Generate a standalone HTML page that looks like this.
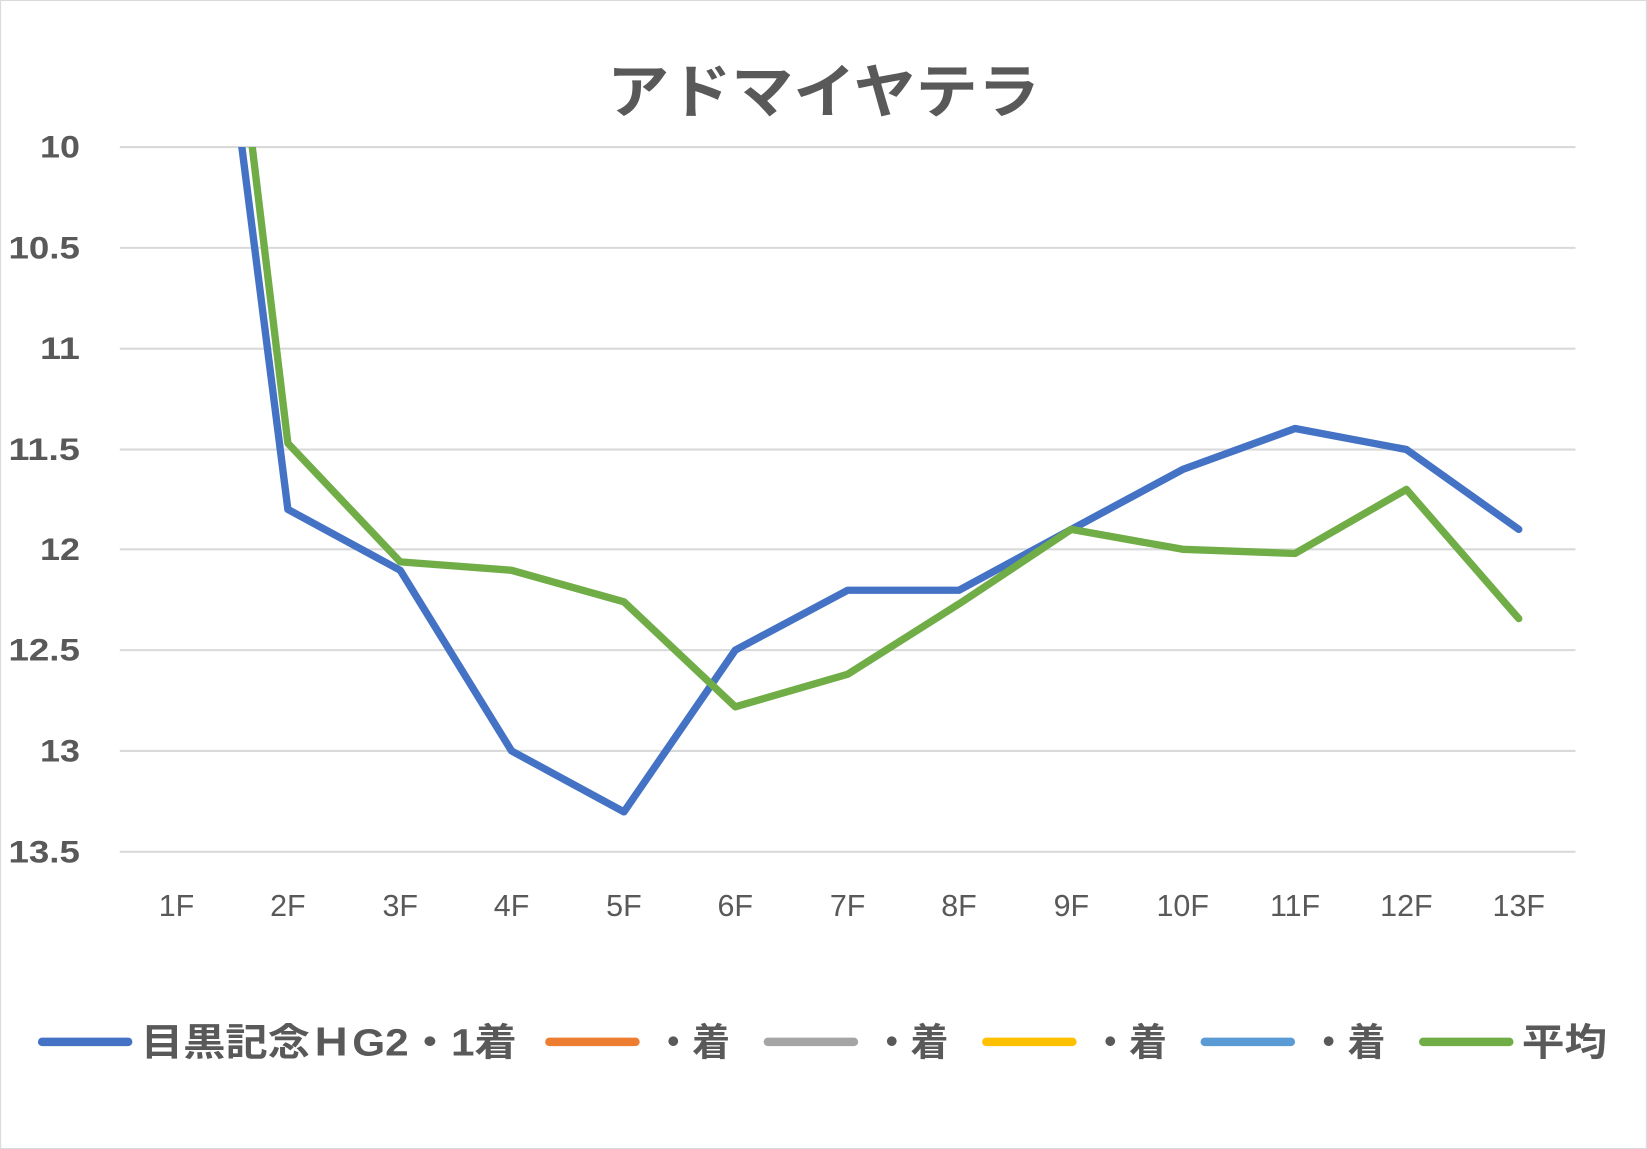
<!DOCTYPE html>
<html><head><meta charset="utf-8"><style>html,body{margin:0;padding:0;background:#fff}svg{display:block}</style></head>
<body>
<svg width="1647" height="1149" viewBox="0 0 1568 1094" xmlns="http://www.w3.org/2000/svg" font-family="'Liberation Sans','Noto Sans CJK JP',sans-serif">
<rect x="0.5" y="0.5" width="1567" height="1093" fill="#fff" stroke="#d9d9d9"/>
<text x="578" y="107" textLength="412" lengthAdjust="spacingAndGlyphs" font-size="56" font-weight="bold" fill="#595959">アドマイヤテラ</text>
<g stroke="#d9d9d9" stroke-width="2">
<line x1="114" x2="1500" y1="140" y2="140"/><line x1="114" x2="1500" y1="236" y2="236"/>
<line x1="114" x2="1500" y1="332" y2="332"/><line x1="114" x2="1500" y1="428" y2="428"/>
<line x1="114" x2="1500" y1="523" y2="523"/><line x1="114" x2="1500" y1="619" y2="619"/>
<line x1="114" x2="1500" y1="715" y2="715"/><line x1="114" x2="1500" y1="811" y2="811"/>
</g>
<g font-size="30" font-weight="bold" fill="#595959">
<text x="38" y="150" textLength="38" lengthAdjust="spacingAndGlyphs">10</text>
<text x="8" y="246" textLength="68" lengthAdjust="spacingAndGlyphs">10.5</text>
<text x="38" y="342" textLength="38" lengthAdjust="spacingAndGlyphs">11</text>
<text x="8" y="438" textLength="68" lengthAdjust="spacingAndGlyphs">11.5</text>
<text x="38" y="533" textLength="38" lengthAdjust="spacingAndGlyphs">12</text>
<text x="8" y="629" textLength="68" lengthAdjust="spacingAndGlyphs">12.5</text>
<text x="38" y="725" textLength="38" lengthAdjust="spacingAndGlyphs">13</text>
<text x="8" y="821" textLength="68" lengthAdjust="spacingAndGlyphs">13.5</text>
</g>
<g font-size="29" fill="#595959" text-anchor="middle">
<text x="168" y="872">1F</text><text x="274" y="872">2F</text><text x="381" y="872">3F</text>
<text x="487" y="872">4F</text><text x="594" y="872">5F</text><text x="700" y="872">6F</text>
<text x="807" y="872">7F</text><text x="913" y="872">8F</text><text x="1020" y="872">9F</text>
<text x="1126" y="872">10F</text><text x="1233" y="872">11F</text><text x="1339" y="872">12F</text>
<text x="1446" y="872">13F</text>
</g>
<clipPath id="c"><rect x="100" y="140" width="1420" height="700"/></clipPath>
<g clip-path="url(#c)" fill="none" stroke-width="7" stroke-linejoin="round" stroke-linecap="round">
<polyline stroke="#4472c4" points="168,-350 274,485 381,543 487,715 594,773 700,619 807,562 913,562 1020,504 1126,447 1233,408 1339,428 1446,504"/>
<polyline stroke="#70ad47" points="168,-460 274,422 381,535 487,543 594,573 700,673 807,642 913,575 1020,504 1126,523 1233,527 1339,466 1446,589"/>
</g>
<g stroke-width="8" stroke-linecap="round">
<line x1="40" x2="122" y1="992" y2="992" stroke="#4472c4"/>
<line x1="523" x2="605" y1="992" y2="992" stroke="#ed7d31"/>
<line x1="731" x2="813" y1="992" y2="992" stroke="#a5a5a5"/>
<line x1="939" x2="1021" y1="992" y2="992" stroke="#ffc000"/>
<line x1="1147" x2="1229" y1="992" y2="992" stroke="#5b9bd5"/>
<line x1="1355" x2="1437" y1="992" y2="992" stroke="#70ad47"/>
</g>
<g font-size="36" font-weight="bold" fill="#595959">
<text x="134" y="1005" textLength="358" lengthAdjust="spacingAndGlyphs">目黒記念ＨG2・1着</text>
<text x="623" y="1005" textLength="72" lengthAdjust="spacingAndGlyphs">・着</text>
<text x="831" y="1005" textLength="72" lengthAdjust="spacingAndGlyphs">・着</text>
<text x="1039" y="1005" textLength="72" lengthAdjust="spacingAndGlyphs">・着</text>
<text x="1247" y="1005" textLength="72" lengthAdjust="spacingAndGlyphs">・着</text>
<text x="1449" y="1005" textLength="81" lengthAdjust="spacingAndGlyphs">平均</text>
</g>
</svg>
</body></html>
